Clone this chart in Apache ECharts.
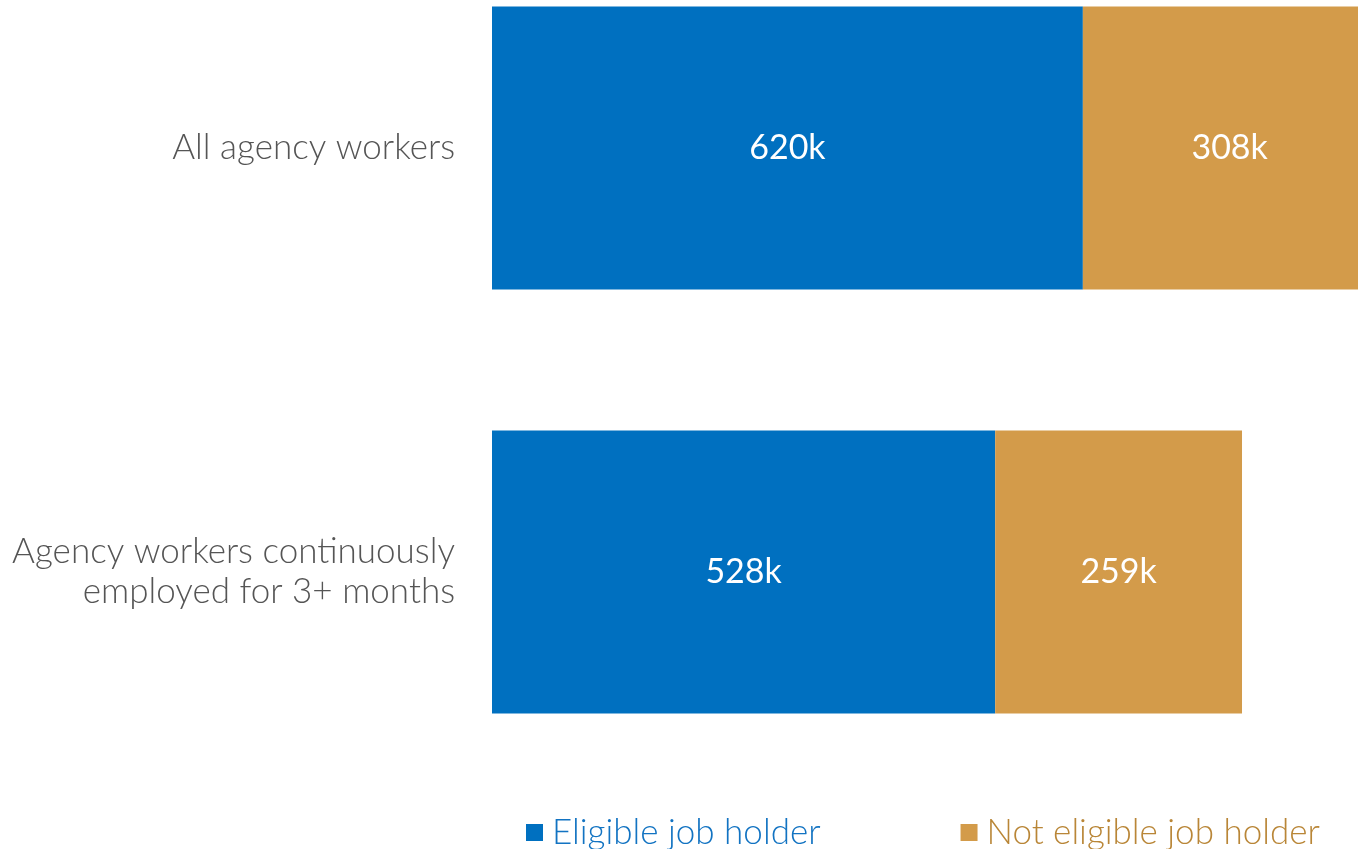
<!DOCTYPE html>
<html><head><meta charset="utf-8">
<script src="https://cdn.jsdelivr.net/npm/echarts@6/dist/echarts.min.js"></script>
<style>html,body{margin:0;padding:0;background:#fff}#c{width:1358px;height:849px}</style>
</head><body><div id="c"></div>
<script>
const categories = ['All agency workers', 'Agency workers continuously\nemployed for 3+ months'];
const eligible = [620, 528];
const notEligible = [308, 259];
const seriesNames = ['Eligible job holder', 'Not eligible job holder'];
const colors = ['#0070C0', '#D39B4A'];
const legendTextColors = ['#1273C2', '#B98637'];

const chart = echarts.init(document.getElementById('c'));
const labelStyle = {show: true, position: 'inside', color: '#fff', fontFamily: 'Lato', fontSize: 34, formatter: p => p.value + 'k'};
chart.setOption({
  animation: false,
  grid: {left: 492, top: -64, height: 848, width: 953, outerBoundsMode: 'none', containLabel: false},
  xAxis: {type: 'value', min: 0, max: 1000, show: false},
  yAxis: {type: 'category', data: categories, inverse: true,
    axisLine: {show: false}, axisTick: {show: false},
    axisLabel: {margin: 37, color: '#555', fontFamily: 'Lato', fontWeight: 300, fontSize: 35, lineHeight: 40, align: 'right'}},
  legend: {left: 521, top: 810, itemWidth: 17, itemHeight: 17, itemGap: 140, icon: 'rect',
    textStyle: {fontFamily: 'Lato', fontWeight: 300, fontSize: 35, padding: [0, 0, 0, 4]},
    data: seriesNames.map((n, i) => ({name: n, textStyle: {color: legendTextColors[i]}}))},
  series: [
    {name: seriesNames[0], type: 'bar', stack: 's', data: eligible, barWidth: 283, itemStyle: {color: colors[0]}, label: labelStyle},
    {name: seriesNames[1], type: 'bar', stack: 's', data: notEligible, barWidth: 283, itemStyle: {color: colors[1]}, label: labelStyle}
  ]
});
</script></body></html>
